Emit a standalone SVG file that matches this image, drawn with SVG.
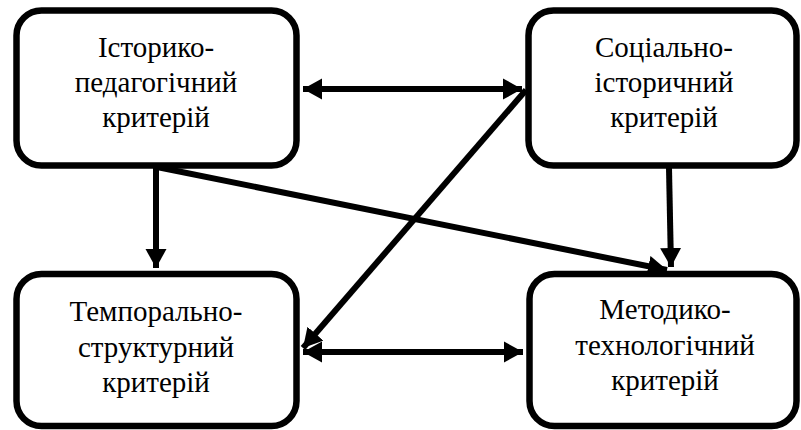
<svg xmlns="http://www.w3.org/2000/svg" width="801" height="430" viewBox="0 0 801 430">
<style>
.box{fill:#fff;stroke:#000;stroke-width:6.5}
.lbl{font-family:"Liberation Serif","Times New Roman",serif;font-size:29px;fill:#000;text-anchor:middle}
.con{stroke:#000;stroke-width:6;fill:none}
</style>
<defs>
<marker id="ah" markerUnits="userSpaceOnUse" markerWidth="20" markerHeight="22" refX="19" refY="10.5" orient="auto-start-reverse" viewBox="0 0 20 21">
<path d="M0,0 L19,10.5 L0,21 z" fill="#000"/>
</marker>
</defs>
<rect width="801" height="430" fill="#fff"/>
<g id="connectors">
<line class="con" x1="303" y1="89" x2="522" y2="89" marker-start="url(#ah)" marker-end="url(#ah)"/>
<line class="con" x1="303" y1="352" x2="523" y2="352" marker-start="url(#ah)" marker-end="url(#ah)"/>
<line class="con" x1="526" y1="90" x2="303" y2="348" marker-end="url(#ah)"/>
<line class="con" x1="157" y1="167" x2="667" y2="270" marker-end="url(#ah)"/>
<line class="con" x1="156" y1="168" x2="156" y2="268" marker-end="url(#ah)"/>
<line class="con" x1="669" y1="168" x2="671" y2="267" marker-end="url(#ah)"/>
</g>
<g id="n1">
<rect class="box" x="16.5" y="10.5" width="280" height="155" rx="25"/>
<text class="lbl" x="156" y="57">Історико-</text>
<text class="lbl" x="156" y="92">педагогічний</text>
<text class="lbl" x="156" y="127">критерій</text>
</g>
<g id="n2">
<rect class="box" x="528.5" y="10.5" width="268" height="155" rx="25"/>
<text class="lbl" x="664" y="57">Соціально-</text>
<text class="lbl" x="664" y="92">історичний</text>
<text class="lbl" x="664" y="127">критерій</text>
</g>
<g id="n3">
<rect class="box" x="16.5" y="274" width="280" height="152" rx="25"/>
<text class="lbl" x="156" y="321">Темпорально-</text>
<text class="lbl" x="156" y="357">структурний</text>
<text class="lbl" x="156" y="392">критерій</text>
</g>
<g id="n4">
<rect class="box" x="529.5" y="274" width="267" height="152" rx="25"/>
<text class="lbl" x="665" y="319">Методико-</text>
<text class="lbl" x="665" y="355">технологічний</text>
<text class="lbl" x="665" y="390">критерій</text>
</g>
</svg>
